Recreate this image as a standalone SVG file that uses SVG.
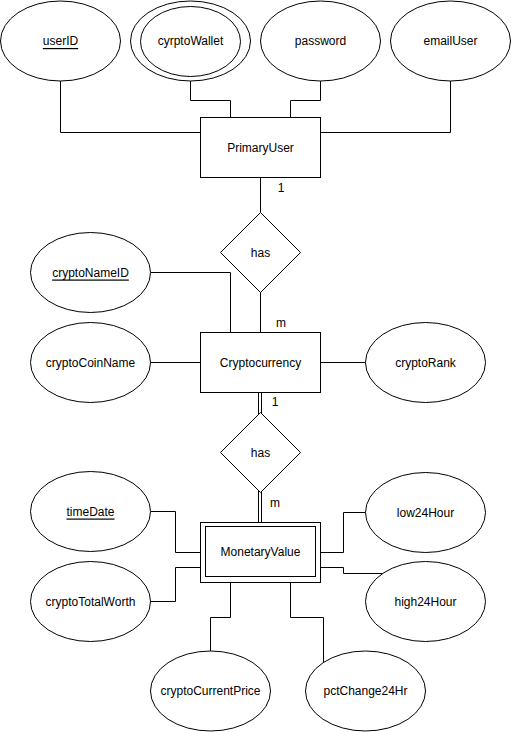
<svg xmlns="http://www.w3.org/2000/svg" width="511" height="732" viewBox="0 0 511 732">
<style>
.s{fill:#fff;stroke:#000;stroke-width:1}
.c{fill:none;stroke:#000;stroke-width:1}
text{font-family:"Liberation Sans",Arial,sans-serif;font-size:12px;fill:#000}
.m{text-anchor:middle;dominant-baseline:central}
.u{text-decoration:underline}
</style>
<rect width="511" height="732" fill="#fff"/>
<g id="connectors">
<polyline class="c" points="60.5,81 60.5,132.5 200.5,132.5"/>
<polyline class="c" points="190.5,81 190.5,100.5 230.5,100.5 230.5,117"/>
<polyline class="c" points="320.5,81 320.5,100.5 290.5,100.5 290.5,117"/>
<polyline class="c" points="450.5,81 450.5,132.5 320.5,132.5"/>
<line class="c" x1="260.5" y1="177" x2="260.5" y2="212.5"/>
<line class="c" x1="260.5" y1="292" x2="260.5" y2="332"/>
<polyline class="c" points="150.5,272.5 230.5,272.5 230.5,332"/>
<line class="c" x1="150.5" y1="362.5" x2="200.5" y2="362.5"/>
<line class="c" x1="320.5" y1="362.5" x2="365.5" y2="362.5"/>
<line class="c" x1="258.5" y1="392" x2="258.5" y2="414"/>
<line class="c" x1="261.5" y1="392" x2="261.5" y2="414"/>
<line class="c" x1="258.5" y1="491" x2="258.5" y2="522"/>
<line class="c" x1="261.5" y1="491" x2="261.5" y2="522"/>
<polyline class="c" points="150.5,511.5 175.5,511.5 175.5,552.5 200.5,552.5"/>
<polyline class="c" points="150.5,601.5 175.5,601.5 175.5,567.5 200.5,567.5"/>
<polyline class="c" points="365.5,512.5 343.5,512.5 343.5,552.5 320.5,552.5"/>
<polyline class="c" points="320.5,567.5 343.5,567.5 343.5,573.5 383,573.5"/>
<polyline class="c" points="230.5,582 230.5,617.5 210.5,617.5 210.5,651"/>
<polyline class="c" points="290.5,582 290.5,617.5 323.5,617.5 323.5,662.5"/>
</g>
<g id="label-1a"><text x="281" y="188" class="m">1</text></g>
<g id="label-ma"><text x="281" y="323" class="m">m</text></g>
<g id="label-1b"><text x="275" y="402" class="m">1</text></g>
<g id="label-mb"><text x="275" y="503" class="m">m</text></g>
<g id="userID">
<ellipse class="s" cx="60.5" cy="41" rx="60" ry="40"/>
<text x="60.5" y="41" class="m u">userID</text>
</g>
<g id="cyrptoWallet">
<ellipse class="s" cx="190.5" cy="41" rx="60" ry="40"/>
<ellipse class="s" cx="190.5" cy="41.5" rx="50" ry="35"/>
<text x="190.5" y="41" class="m">cyrptoWallet</text>
</g>
<g id="password">
<ellipse class="s" cx="320.5" cy="41" rx="60" ry="40"/>
<text x="320.5" y="41" class="m">password</text>
</g>
<g id="emailUser">
<ellipse class="s" cx="450.5" cy="41" rx="60" ry="40"/>
<text x="450.5" y="41" class="m">emailUser</text>
</g>
<g id="PrimaryUser">
<rect class="s" x="200.5" y="117.5" width="120" height="60"/>
<text x="260.5" y="147.5" class="m">PrimaryUser</text>
</g>
<g id="has1">
<polygon class="s" points="260.5,212.5 300.5,252.5 260.5,292.5 220.5,252.5"/>
<text x="260.5" y="252.5" class="m">has</text>
</g>
<g id="cryptoNameID">
<ellipse class="s" cx="90.5" cy="272.5" rx="60" ry="40"/>
<text x="90.5" y="272.5" class="m u">cryptoNameID</text>
</g>
<g id="cryptoCoinName">
<ellipse class="s" cx="90.5" cy="362.5" rx="60" ry="40"/>
<text x="90.5" y="362.5" class="m">cryptoCoinName</text>
</g>
<g id="Cryptocurrency">
<rect class="s" x="200.5" y="332.5" width="120" height="60"/>
<text x="260.5" y="362.5" class="m">Cryptocurrency</text>
</g>
<g id="cryptoRank">
<ellipse class="s" cx="425.5" cy="362.5" rx="60" ry="40"/>
<text x="425.5" y="362.5" class="m">cryptoRank</text>
</g>
<g id="has2">
<polygon class="s" points="260.5,412.5 300.5,452.5 260.5,492.5 220.5,452.5"/>
<text x="260.5" y="452.5" class="m">has</text>
</g>
<g id="MonetaryValue">
<rect class="s" x="200.5" y="522.5" width="120" height="60"/>
<rect class="s" x="205.5" y="526.5" width="110" height="50"/>
<text x="260.5" y="552" class="m">MonetaryValue</text>
</g>
<g id="timeDate">
<ellipse class="s" cx="90.5" cy="511.5" rx="60" ry="40"/>
<text x="90.5" y="511.5" class="m u">timeDate</text>
</g>
<g id="cryptoTotalWorth">
<ellipse class="s" cx="90.5" cy="601.5" rx="60" ry="40"/>
<text x="90.5" y="601.5" class="m">cryptoTotalWorth</text>
</g>
<g id="low24Hour">
<ellipse class="s" cx="425.5" cy="512.5" rx="60" ry="40"/>
<text x="425.5" y="512.5" class="m">low24Hour</text>
</g>
<g id="high24Hour">
<ellipse class="s" cx="425.5" cy="601.5" rx="60" ry="40"/>
<text x="425.5" y="601.5" class="m">high24Hour</text>
</g>
<g id="cryptoCurrentPrice">
<ellipse class="s" cx="210.5" cy="691" rx="60" ry="40"/>
<text x="210.5" y="691" class="m">cryptoCurrentPrice</text>
</g>
<g id="pctChange24Hr">
<ellipse class="s" cx="365.5" cy="691" rx="60" ry="40"/>
<text x="365.5" y="691" class="m">pctChange24Hr</text>
</g>
</svg>
